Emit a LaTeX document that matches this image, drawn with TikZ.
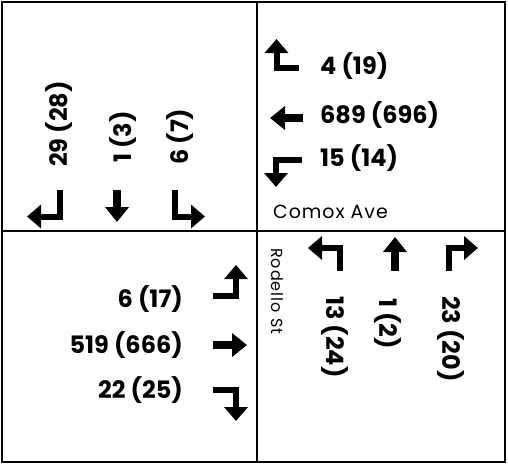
\documentclass[tikz,border=0pt]{standalone}
\usepackage{fontspec}
\setmainfont{Poppins}
\usetikzlibrary{arrows.meta}
\begin{document}
\begin{tikzpicture}[x=1pt,y=-1pt,
  frame/.style={line width=2pt, draw=black},
  turnarrow/.style={line width=6pt, line join=miter, -{Triangle[width=23pt,length=14pt]}},
  thruarrow/.style={line width=8pt, -{Triangle[width=23pt,length=15pt]}},
  count/.style={font=\fontsize{24}{24}\selectfont\bfseries, inner sep=0pt},
  street/.style={font=\fontsize{16}{16}\selectfont\addfontfeature{LetterSpace=6}, inner sep=0pt},
  widestreet/.style={font=\fontsize{19}{19}\selectfont\addfontfeature{LetterSpace=5}, inner sep=0pt}]
\useasboundingbox (0,0) rectangle (508,464);
% intersection quadrants
\draw[frame] (2,2) rectangle (505,462);
\coordinate (ctop) at (257,2);
\coordinate (cbot) at (257,462);
\coordinate (cleft) at (2,231);
\coordinate (cright) at (505,231);
\draw[frame] (ctop) -- (cbot);
\draw[frame] (cleft) -- (cright);

% southbound approach (top left)
\coordinate (sbRa) at (59.5,190); \coordinate (sbRb) at (59.5,216.5); \coordinate (sbRc) at (27,216.5);
\coordinate (sbTa) at (117,190); \coordinate (sbTb) at (117,222);
\coordinate (sbLa) at (174.5,190); \coordinate (sbLb) at (174.5,216.5); \coordinate (sbLc) at (205,216.5);
\draw[turnarrow] (sbRa) -- (sbRb) -- (sbRc);
\draw[thruarrow] (sbTa) -- (sbTb);
\draw[turnarrow] (sbLa) -- (sbLb) -- (sbLc);
\node[count, rotate=90, anchor=west] (sbR) at (59,167) {29 (28)};
\node[count, rotate=90, anchor=west] (sbT) at (123.5,163) {1 (3)};
\node[count, rotate=90, anchor=west] (sbL) at (180,165) {6 (7)};

% westbound approach (top right)
\coordinate (wbRa) at (299,68); \coordinate (wbRb) at (276.5,68); \coordinate (wbRc) at (276.5,39);
\coordinate (wbTa) at (303,118); \coordinate (wbTb) at (270,118);
\coordinate (wbLa) at (302,160); \coordinate (wbLb) at (276,160); \coordinate (wbLc) at (276,187);
\draw[turnarrow] (wbRa) -- (wbRb) -- (wbRc);
\draw[thruarrow] (wbTa) -- (wbTb);
\draw[turnarrow] (wbLa) -- (wbLb) -- (wbLc);
\node[count, anchor=west] (wbR) at (320,66.5) {4 (19)};
\node[count, anchor=west] (wbT) at (320,115) {689 (696)};
\node[count, anchor=west] (wbL) at (320,158) {15 (14)};
\node[widestreet, anchor=west] (comox) at (273,211.5) {Comox Ave};

% eastbound approach (bottom left)
\coordinate (ebLa) at (213,296); \coordinate (ebLb) at (236,296); \coordinate (ebLc) at (236,265);
\coordinate (ebTa) at (213,345); \coordinate (ebTb) at (247,345);
\coordinate (ebRa) at (213,389.5); \coordinate (ebRb) at (236,389.5); \coordinate (ebRc) at (236,421);
\draw[turnarrow] (ebLa) -- (ebLb) -- (ebLc);
\draw[thruarrow] (ebTa) -- (ebTb);
\draw[turnarrow] (ebRa) -- (ebRb) -- (ebRc);
\node[count, anchor=east] (ebL) at (183,299) {6 (17)};
\node[count, anchor=east] (ebT) at (183,345.5) {519 (666)};
\node[count, anchor=east] (ebR) at (183,390.5) {22 (25)};

% northbound approach (bottom right)
\coordinate (nbLa) at (340,271); \coordinate (nbLb) at (340,248); \coordinate (nbLc) at (308,248);
\coordinate (nbTa) at (395,271); \coordinate (nbTb) at (395,237);
\coordinate (nbRa) at (448.5,271); \coordinate (nbRb) at (448.5,248); \coordinate (nbRc) at (478,248);
\draw[turnarrow] (nbLa) -- (nbLb) -- (nbLc);
\draw[thruarrow] (nbTa) -- (nbTb);
\draw[turnarrow] (nbRa) -- (nbRb) -- (nbRc);
\node[count, rotate=-90, anchor=west] (nbL) at (335,296) {13 (24)};
\node[count, rotate=-90, anchor=west] (nbT) at (387.5,298) {1 (2)};
\node[count, rotate=-90, anchor=west] (nbR) at (450.5,296) {23 (20)};
\node[street, rotate=-90, anchor=west] (rodello) at (277.5,248) {Rodello St};
\end{tikzpicture}
\end{document}
